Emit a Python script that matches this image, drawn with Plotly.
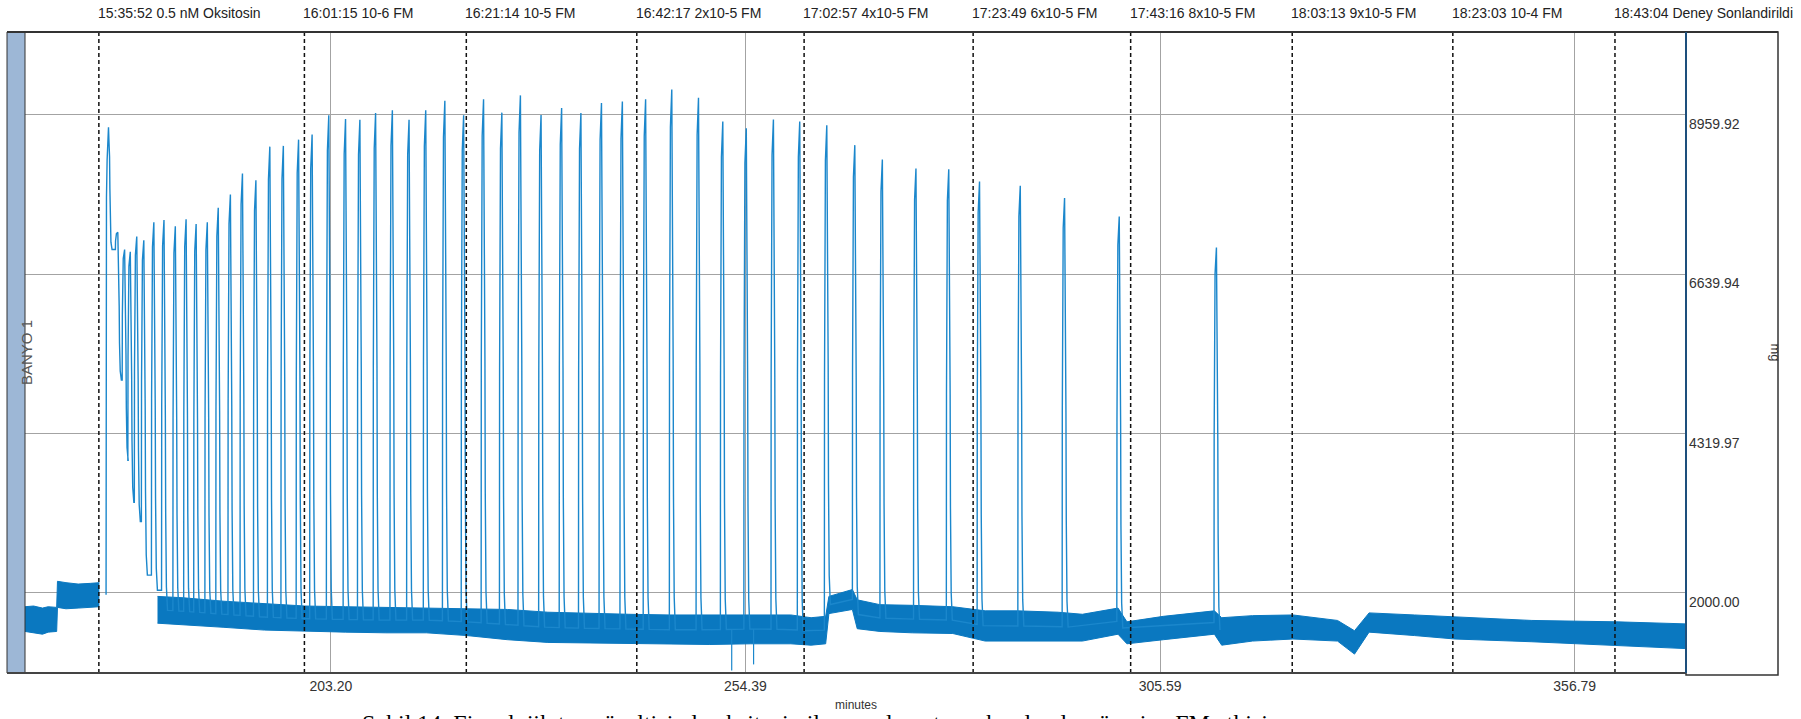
import numpy as np
import plotly.graph_objects as go

# ---------------- data ----------------
x_range = [165.44, 370.53]
y_range = [835.0, 10167.0]
x_tick_vals = [203.20, 254.39, 305.59, 356.79]
x_tick_text = ["203.20", "254.39", "305.59", "356.79"]
y_tick_vals = [2000.00, 4319.97, 6639.94, 8959.92]
y_tick_text = ["2000.00", "4319.97", "6639.94", "8959.92"]

event_time = [174.56, 199.94, 219.93, 240.98, 261.64, 282.51, 301.96, 321.91, 341.74, 361.76]
event_label = ["15:35:52 0.5 nM Oksitosin", "16:01:15 10-6 FM", "16:21:14 10-5 FM",
               "16:42:17 2x10-5 FM", "17:02:57 4x10-5 FM", "17:23:49 6x10-5 FM",
               "17:43:16 8x10-5 FM", "18:03:13 9x10-5 FM", "18:23:03 10-4 FM",
               "18:43:04 Deney Sonlandirildi"]

# contraction peaks (minutes, mg)
peak_time = [175.75, 176.90, 177.74, 178.44, 179.24, 180.11, 181.35, 182.60, 184.00, 185.33,
             186.57, 187.95, 189.30, 190.80, 192.29, 193.95, 195.67, 197.34, 199.22, 200.89,
             202.95, 205.02, 206.79, 208.73, 210.80, 212.86, 214.92, 217.28, 219.60, 222.06,
             224.32, 226.61, 229.16, 231.70, 234.08, 236.62, 239.20, 242.07, 245.30, 248.60,
             251.60, 254.50, 257.85, 261.10, 264.44, 267.90, 271.30, 275.45, 279.50, 283.30,
             288.33, 293.80, 300.55, 312.55]
peak_value = [8780, 7250, 7000, 6968, 7190, 7134, 7396, 7429, 7340, 7440,
              7373, 7396, 7607, 7802, 8108, 8008, 8498, 8509, 8600, 8676,
              8954, 8899, 8888, 8988, 9027, 8888, 9027, 9166, 8954, 9188,
              8993, 9244, 8960, 9060, 8988, 9132, 9155, 9188, 9330, 9210,
              8865, 8765, 8893, 8865, 8810, 8520, 8310, 8180, 8170, 7990,
              7930, 7750, 7480, 7030]
# level reached after each of the first (overlapping) contractions
early_floor = [7000, 5100, 3930, 3320, 3040, 2260, 2040]

# resting tone band before oxytocin
pre_time = [165.44, 166.5, 167.6, 168.3, 169.35, 169.45, 170.5, 172.0, 173.5, 174.62]
pre_low = [1440, 1420, 1400, 1430, 1440, 1790, 1770, 1780, 1790, 1800]
pre_high = [1800, 1810, 1780, 1800, 1790, 2170, 2150, 2130, 2140, 2150]

# resting tone band between contractions
base_time = [181.8, 185, 190, 195, 200, 205, 210, 215, 220, 225, 230, 235, 240, 245, 250,
             255, 260, 262.5, 264.3, 264.7, 267.6, 268.2, 271, 275, 280, 284, 288, 293, 296,
             300.4, 301.5, 306, 312.3, 313.2, 317, 322, 327.5, 329.6, 331.4, 337, 342, 351.5,
             362, 370.53]
base_low = [1560, 1540, 1500, 1460, 1440, 1430, 1420, 1420, 1380, 1320, 1280, 1270, 1260, 1250, 1250,
            1260, 1260, 1240, 1260, 1700, 1760, 1480, 1440, 1420, 1410, 1300, 1300, 1300, 1300,
            1400, 1260, 1320, 1400, 1240, 1300, 1330, 1300, 1110, 1430, 1380, 1330, 1290,
            1240, 1190]
base_high = [1950, 1930, 1880, 1840, 1810, 1800, 1790, 1790, 1780, 1760, 1720, 1700, 1690, 1680, 1680,
             1690, 1680, 1640, 1660, 1950, 2050, 1900, 1830, 1820, 1800, 1740, 1740, 1720, 1690,
             1780, 1580, 1660, 1740, 1640, 1670, 1680, 1600, 1450, 1710, 1680, 1650, 1600,
             1580, 1550]

# short downward artefacts
artefact_time = [252.7, 255.4]
artefact_value = [870, 960]

caption = ("Şekil 14. Fizyolojik tuz çözeltisinde oksitosin ile uyarılan uterus "
           "kasılmaları üzerine FM etkisi")

# ---------------- styles ----------------
TRACE = "#0a78c0"
PULSE = "#1b87cc"
GRID = "#a3a3a3"
SANS = "Liberation Sans, Arial"
PLOT_L, PLOT_R, PLOT_T, PLOT_B = 25, 1686, 32, 673
BOX_R = 1778
W, H = 1801, 719
pw = PLOT_R - PLOT_L
ph = PLOT_B - PLOT_T

# pulse shape (minutes offset, fraction of amplitude): steep rise, short top, stepped fall
shape_dt = [-0.30, -0.28, -0.25, -0.17, 0.0, 0.05, 0.13, 0.17, 0.21, 0.30, 0.44]
shape_fr = [0.0, 0.5, 0.85, 0.93, 1.0, 0.9, 0.76, 0.5, 0.25, 0.06, 0.0]

bt = np.array(base_time)
bmid = (np.array(base_low) + np.array(base_high)) / 2
pmid_end = (pre_low[-1] + pre_high[-1]) / 2


def rest_level(t):
    return float(np.interp(t, bt, bmid))


px, py = [], []
prev = pmid_end
for i, (tp, vp) in enumerate(zip(peak_time, peak_value)):
    after = early_floor[i] if i < len(early_floor) else rest_level(tp + 0.5)
    before = prev if i < len(early_floor) + 1 else rest_level(tp - 0.3)
    for dt, fr in zip(shape_dt, shape_fr):
        b = before if dt <= 0 else after
        px.append(tp + dt)
        py.append(b + fr * (vp - b))
    prev = after

fig = go.Figure()


def add_band(t, lo, hi):
    fig.add_trace(go.Scatter(x=t, y=hi, mode="lines", line=dict(color=TRACE, width=1),
                             hoverinfo="skip", showlegend=False))
    fig.add_trace(go.Scatter(x=t, y=lo, mode="lines", line=dict(color=TRACE, width=1),
                             fill="tonexty", fillcolor=TRACE, hoverinfo="skip", showlegend=False))


add_band(pre_time, pre_low, pre_high)
add_band(base_time, base_low, base_high)

fig.add_trace(go.Scatter(x=px, y=py, mode="lines", line=dict(color=PULSE, width=1.4),
                         hoverinfo="skip", showlegend=False))

ax, ay = [], []
for t, v in zip(artefact_time, artefact_value):
    ax += [t, t, None]
    ay += [rest_level(t), v, None]
fig.add_trace(go.Scatter(x=ax, y=ay, mode="lines", line=dict(color=PULSE, width=1.2),
                         hoverinfo="skip", showlegend=False))

# event markers (triangles above the frame)
mark_y = y_range[1] + 5 * (y_range[1] - y_range[0]) / ph
fig.add_trace(go.Scatter(x=event_time, y=[mark_y] * len(event_time),
                         mode="markers", cliponaxis=False,
                         marker=dict(symbol="triangle-down-open", size=7, color="#333",
                                     line=dict(width=1, color="#333")),
                         hoverinfo="skip", showlegend=False))

shapes = []
for t in event_time:
    shapes.append(dict(type="line", xref="x", yref="paper", x0=t, x1=t, y0=0, y1=1,
                       line=dict(color="#111", width=1.5, dash="4px,3px"), layer="above"))
# left channel bar
shapes.append(dict(type="rect", xref="paper", yref="paper", x0=-18 / pw, x1=0, y0=0, y1=1,
                   fillcolor="#9db7d6", line=dict(color="#333", width=1)))
# right label box
shapes.append(dict(type="rect", xref="paper", yref="paper", x0=1, x1=(BOX_R - PLOT_L) / pw,
                   y0=-2 / ph, y1=1,
                   fillcolor="rgba(0,0,0,0)", line=dict(color="#333", width=1.5)))
# frame
shapes.append(dict(type="line", xref="paper", yref="paper", x0=-18 / pw, x1=(BOX_R - PLOT_L) / pw,
                   y0=1, y1=1, line=dict(color="#333", width=2)))
shapes.append(dict(type="line", xref="paper", yref="paper", x0=-18 / pw, x1=1, y0=0, y1=0,
                   line=dict(color="#444", width=2)))
shapes.append(dict(type="line", xref="paper", yref="paper", x0=1, x1=1, y0=0, y1=1,
                   line=dict(color="#1d4f7c", width=2)))

annotations = []
for t, lab in zip(event_time, event_label):
    annotations.append(dict(x=t, y=1, xref="x", yref="paper", text=lab, showarrow=False,
                            xanchor="left", yanchor="middle", xshift=-3, yshift=19,
                            font=dict(family=SANS, size=14, color="#222")))
for v, lab in zip(y_tick_vals, y_tick_text):
    annotations.append(dict(x=1, y=v, xref="paper", yref="y", text=lab, showarrow=False,
                            xanchor="left", yanchor="top", xshift=1, yshift=1,
                            font=dict(family=SANS, size=14, color="#333")))
annotations.append(dict(x=(BOX_R - 3 - PLOT_L) / pw, y=0.5, xref="paper", yref="paper", text="mg",
                        showarrow=False, textangle=90, xanchor="center",
                        font=dict(family=SANS, size=13, color="#333")))
annotations.append(dict(x=-9 / pw, y=0.5, xref="paper", yref="paper", text="BANYO 1", showarrow=False,
                        textangle=-90, font=dict(family=SANS, size=15, color="#555")))
annotations.append(dict(x=0.5, y=0, xref="paper", yref="paper", text="minutes", showarrow=False,
                        yanchor="middle", yshift=-32,
                        font=dict(family=SANS, size=12, color="#333")))
annotations.append(dict(x=(360 - PLOT_L) / pw, y=0, xref="paper", yref="paper",
                        text=caption, showarrow=False, xanchor="left", yanchor="top", yshift=-35,
                        font=dict(family="Liberation Serif, Times New Roman", size=24, color="#000")))

fig.update_layout(
    width=W, height=H,
    margin=dict(l=PLOT_L, r=W - PLOT_R, t=PLOT_T, b=H - PLOT_B),
    paper_bgcolor="white", plot_bgcolor="white",
    shapes=shapes, annotations=annotations, showlegend=False,
    xaxis=dict(range=x_range, tickvals=x_tick_vals, ticktext=x_tick_text, showgrid=True,
               gridcolor=GRID, gridwidth=1, zeroline=False, showline=False, ticks="",
               ticklabelstandoff=3,
               tickfont=dict(family=SANS, size=14, color="#333")),
    yaxis=dict(range=y_range, tickvals=y_tick_vals, showticklabels=False, showgrid=True,
               gridcolor=GRID, gridwidth=1, zeroline=False, showline=False, ticks=""),
)

fig.write_html("out.html")
